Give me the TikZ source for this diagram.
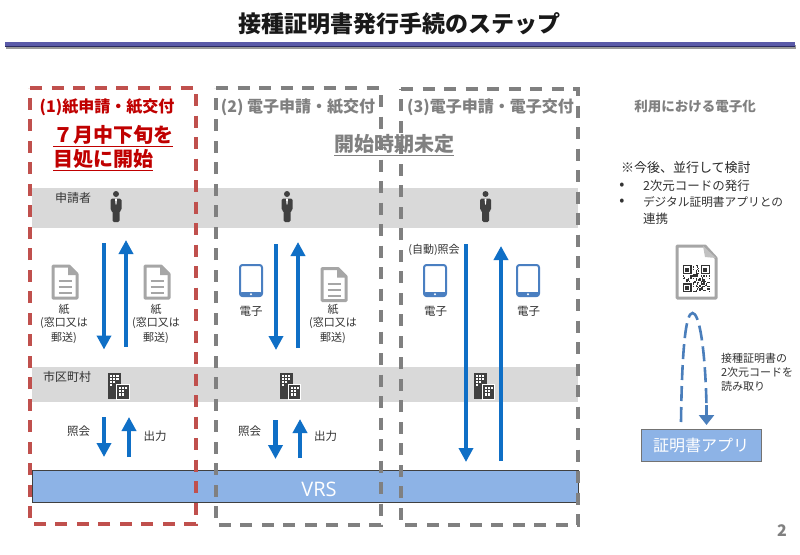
\documentclass[tikz,border=0pt]{standalone}
\usepackage{fontspec}
\setmainfont{Noto Sans CJK JP}
\newfontfamily\latinfont{Open Sans}
\usetikzlibrary{arrows.meta}
\definecolor{bandgray}{HTML}{D9D9D9}
\definecolor{vrsblue}{HTML}{8DB3E6}
\definecolor{arrowblue}{HTML}{0F6FC6}
\definecolor{dashblue}{HTML}{4A7EBB}
\definecolor{iconblue}{HTML}{4A7FC1}
\definecolor{redtxt}{HTML}{C00000}
\definecolor{reddash}{HTML}{C0504D}
\definecolor{graytxt}{HTML}{808080}
\definecolor{dark}{HTML}{404040}
\definecolor{docgray}{HTML}{A6A6A6}
\definecolor{rulea}{HTML}{5A5AA8}
\definecolor{ruleb}{HTML}{2A2A60}
\newcommand{\fz}[1]{\fontsize{#1pt}{#1pt}\selectfont}
\tikzset{
  x=1pt,y=-1pt,
  lbl/.style={inner sep=0pt,outer sep=0pt,text=black!80,font=\fz{11.5},align=center},
  head/.style={inner sep=0pt,text=graytxt,font=\fz{16}\bfseries},
  band/.style={fill=bandgray,draw=none},
  panelred/.style={draw=reddash,line width=3.2pt,dash pattern=on 12pt off 9.5pt},
  panelgray/.style={draw=graytxt,line width=3.2pt,dash pattern=on 12pt off 9.5pt},
  flow/.style={draw=arrowblue,line width=4.5pt,-{Triangle[width=14pt,length=14pt]}},
  person/.pic={
    \fill[dark] (0,-12.5) circle (3);
    \fill[dark,rounded corners=1.5pt] (-5.5,-8) -- (5.5,-8) -- (5.5,4) -- (3.5,4) -- (3.5,15.5) -- (-3.5,15.5) -- (-3.5,4) -- (-5.5,4) -- cycle;
    \fill[white] (-1,-8) -- (1,-8) -- (0.4,-2) -- (-0.4,-2) -- cycle;
  },
  docicon/.pic={
    \draw[docgray,line width=3pt,line join=round] (1,1) -- (17,1) -- (25,9) -- (25,33) -- (1,33) -- cycle;
    \fill[docgray] (16,1) -- (16,10) -- (25,10) -- cycle;
    \foreach \yy in {16,22,28}{\draw[docgray,line width=2pt] (6.5,\yy) -- (19.5,\yy);}
  },
  phone/.pic={
    \draw[iconblue,line width=2pt,rounded corners=2.5pt] (0,0) rectangle (22,31);
    \fill[iconblue,rounded corners=1.5pt] (0,27) rectangle (22,31.5);
    \fill[white] (11,29.2) circle (1.1);
  },
  building/.pic={
    \fill[dark] (0,0) rectangle (13,26.5);
    \fill[dark,draw=white,line width=0.6pt] (8.5,12) rectangle (21,26.8);
    \foreach \xx/\yy in {2/2,5.2/2,8.4/2,2/5.2,5.2/5.2,8.4/5.2,2/8.4,5.2/8.4,2/11.6,11/14.5,14.2/14.5,17/14.5,11/17.7,14.2/17.7,11/20.9,14.2/20.9}{
      \fill[white] (\xx,\yy) rectangle ++(2.1,2.1);}
  },
}
\begin{document}
\begin{tikzpicture}
\useasboundingbox (0,0) rectangle (800,554);
\fill[white] (0,0) rectangle (800,554);
% title
\node[inner sep=0pt,font=\fz{23}\bfseries,text=black!90] (title) at (399,24) {接種証明書発行手続のステップ};
\fill[black!40] (6,45) rectangle (796,48.5);
\fill[ruleb] (5,45) rectangle (795,47);
\fill[rulea] (5,41.5) rectangle (795,45.5);
% bands
\path[band] (32,188) rectangle (578,227.5);
\path[band] (32,367) rectangle (578,402);
\node[draw=dark,fill=vrsblue,line width=1pt,minimum width=546pt,minimum height=31.5pt,inner sep=0pt] (vrs) at (305,486.5) {};
\node[inner sep=0pt,text=white,font=\latinfont\fz{20}] (vrslabel) at (319,489) {VRS};
% panels
\draw[panelred] (30,88) -- (193,88) -- (196,88) -- (196,524) -- (30,524) -- cycle;
\draw[panelgray] (216,88) -- (381,88) -- (381,525) -- (216,525) -- cycle;
\draw[panelgray] (401,89) -- (578,89) -- (578,525) -- (401,525) -- cycle;
% headings
\node[head,text=redtxt] (h1) at (107,107) {(1)紙申請・紙交付};
\node[head] (h2) at (298,107) {(2) 電子申請・紙交付};
\node[head] (h3) at (490.5,107) {(3)電子申請・電子交付};
\node[head,font=\fz{13.5}\bfseries] (h4) at (695,106) {利用における電子化};
\node[inner sep=0pt,anchor=west,text=redtxt,font=\fz{20}\bfseries] (s1a) at (53,136) {\underline{７月中下旬を}};
\node[inner sep=0pt,anchor=west,text=redtxt,font=\fz{20}\bfseries] (s1b) at (53,160) {\underline{目処に開始}};
\node[inner sep=0pt,text=graytxt,font=\fz{20}\bfseries] (s2) at (394,145) {\underline{開始時期未定}};
% row labels
\node[lbl,font=\fz{12}] (applicant) at (73,198) {申請者};
\node[lbl,font=\fz{12}] (city) at (67,376.5) {市区町村};
% people and buildings
\pic at (116,206.5) {person};
\pic at (287,206.5) {person};
\pic at (485.5,206.5) {person};
\pic at (108,372.5) {building};
\pic at (279.5,372.5) {building};
\pic at (473.5,372.5) {building};
% docs and phones
\pic at (52,265) {docicon};
\pic at (144,265) {docicon};
\pic at (321,267.5) {docicon};
\pic at (240,265) {phone};
\pic at (424,265) {phone};
\pic at (517,265) {phone};
% arrow endpoints
\coordinate (a1s) at (104,243); \coordinate (a1e) at (104,349.5);
\coordinate (a2s) at (126,346.5); \coordinate (a2e) at (126,240);
\coordinate (a3s) at (104,417); \coordinate (a3e) at (104,457);
\coordinate (a4s) at (129,457); \coordinate (a4e) at (129,417);
\coordinate (b1s) at (276,244); \coordinate (b1e) at (276,350);
\coordinate (b2s) at (298,348); \coordinate (b2e) at (298,242);
\coordinate (b3s) at (275.5,420); \coordinate (b3e) at (275.5,459);
\coordinate (b4s) at (300,458); \coordinate (b4e) at (300,419);
\coordinate (c1s) at (466,244); \coordinate (c1e) at (466,462);
\coordinate (c2s) at (501,461); \coordinate (c2e) at (501,246);
\foreach \p in {a1,a2,a3,a4,b1,b2,b3,b4,c1,c2}{\draw[flow] (\p s) -- (\p e);}
% labels
\node[lbl,font=\fz{11}] (t1) at (64,324) {紙\\[2pt](窓口又は\\[2pt]郵送)};
\node[lbl,font=\fz{11}] (t2) at (156,324) {紙\\[2pt](窓口又は\\[2pt]郵送)};
\node[lbl,font=\fz{11}] (t3) at (333,324) {紙\\[2pt](窓口又は\\[2pt]郵送)};
\node[lbl] (e1) at (251,311) {電子};
\node[lbl] (e2) at (435.5,311) {電子};
\node[lbl] (e3) at (528.5,311) {電子};
\node[lbl] (q1) at (78.5,431) {照会};
\node[lbl] (o1) at (155,436) {出力};
\node[lbl] (q2) at (249.5,431) {照会};
\node[lbl] (o2) at (325.5,436) {出力};
\node[lbl,font=\fz{11}] (q3) at (434,250) {(自動)照会};
% right column text
\node[lbl,anchor=west,font=\fz{13},text=black!85] (note) at (621,168) {※今後、並行して検討};
\node[lbl,font=\fz{15}] (b1) at (622,186) {•};
\node[lbl,anchor=west,font=\fz{12.5}] (l1) at (643,186) {2次元コードの発行};
\node[lbl,font=\fz{15}] (b2) at (622,202) {•};
\node[lbl,anchor=west,font=\fz{11.7}] (l2) at (643,202) {デジタル証明書アプリとの};
\node[lbl,anchor=west,font=\fz{12.5}] (l3) at (643,219) {連携};
% QR document
\draw[docgray,line width=3pt,line join=round] (677,246) -- (705,246) -- (716,258) -- (716,298) -- (677,298) -- cycle;
\fill[docgray!70] (703,246) -- (705,257) -- (716,258) -- cycle;
\begin{scope}[shift={(682.5,265)}]
  \foreach \i in {0,...,20}{\foreach \j in {0,...,20}{
    \pgfmathtruncatemacro{\m}{mod(mod(\i*\i*\j,17)+mod(\j*\j*\i,13)+\i+2*\j,5)}
    \pgfmathtruncatemacro{\sk}{(\i<8 && \j<8)||(\i>12 && \j<8)||(\i<8 && \j>12)}
    \ifnum\sk=0 \ifnum\m<2 \fill[black!80] (\i*1.3,\j*1.3) rectangle ++(1.3,1.3);\fi\fi
  }}
  \foreach \ox/\oy in {0/0,18.2/0,0/18.2}{
    \draw[black!80,line width=1.3pt] (\ox+.65,\oy+.65) rectangle ++(7.8,7.8);
    \fill[black!80] (\ox+2.6,\oy+2.6) rectangle ++(3.9,3.9);
  }
\end{scope}
% app
\node[draw=black!55,fill=vrsblue,line width=1pt,minimum width=120pt,minimum height=32pt,inner sep=0pt,text=white,font=\fz{16}] (app) at (701,445) {証明書アプリ};
\coordinate (rs) at (681,422); \coordinate (re) at (706.5,425);
\draw[dashblue,line width=2.6pt,dash pattern=on 15pt off 6pt] (rs) .. controls (682,345) and (686,313) .. (692.5,313) .. controls (699,313) and (705,345) .. (706.5,405);
\coordinate (rm) at (706.5,405);
\draw[dashblue,line width=2.6pt,-{Triangle[width=15pt,length=10pt]}] (rm) -- (re);
\node[lbl,anchor=west,font=\fz{11},align=left] (read) at (721,372) {接種証明書の\\[3pt]2次元コードを\\[3pt]読み取り};
\node[inner sep=0pt,text=graytxt,font=\fz{16}\bfseries] (page) at (782,531) {2};
\end{tikzpicture}
\end{document}
